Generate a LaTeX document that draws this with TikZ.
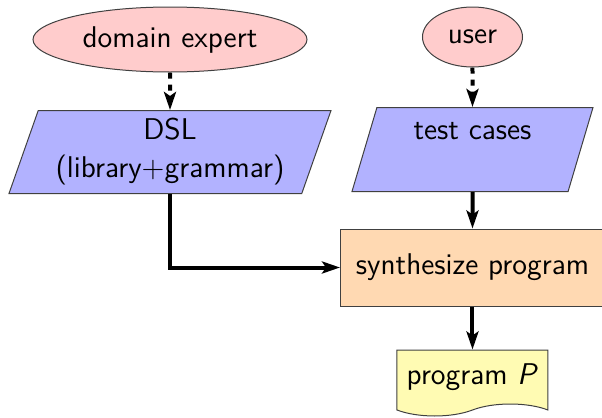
\documentclass[tikz,border=0pt]{standalone}
\usetikzlibrary{shapes.geometric,shapes.symbols,arrows.meta}
\begin{document}
\begin{tikzpicture}[x=0.5pt,y=-0.5pt,
  basebox/.style={font=\sffamily\fontsize{15}{19}\selectfont, draw=black!75, line width=0.5pt},
  actorshape/.style={basebox, ellipse, fill=red!20},
  inshape/.style={basebox, trapezium, trapezium left angle=70, trapezium right angle=110,
                  trapezium stretches body, fill=blue!30, align=center},
  procbox/.style={basebox, rectangle, fill=orange!30},
  outtape/.style={basebox, tape, tape bend top=none, tape bend height=6pt, fill=yellow!30},
  flowarrow/.style={line width=2pt, -{Stealth[length=9pt,width=6pt,inset=2pt]}}]
\useasboundingbox (0,0) rectangle (602,418);
\node[actorshape, minimum width=137pt, minimum height=32.5pt] (expert) at (170,39.5) {domain expert};
\node[actorshape, minimum width=50pt, minimum height=30pt] (user) at (472.5,37) {user};
\node[inshape, minimum width=161pt, minimum height=41.5pt] (dsl) at (170,152) {DSL\\(library+grammar)};
\node[inshape, minimum width=120.5pt, minimum height=42pt] (tests) at (472.5,149.5) {test cases\\\mbox{}};
\node[procbox, minimum width=132pt, minimum height=38.5pt] (synth) at (472.5,267.5) {synthesize program};
\node[outtape, minimum width=75.5pt, minimum height=33pt] (prog) at (472.5,377) {program \textit{P}};
\draw[flowarrow, dashed] (expert.south) -- (dsl.north);
\draw[flowarrow, dashed] (user.south) -- (tests.north);
\draw[flowarrow] (tests.south) -- (synth.north);
\draw[flowarrow] (dsl.south) |- (synth.west);
\draw[flowarrow] (synth.south) -- (prog.north);
\end{tikzpicture}
\end{document}
